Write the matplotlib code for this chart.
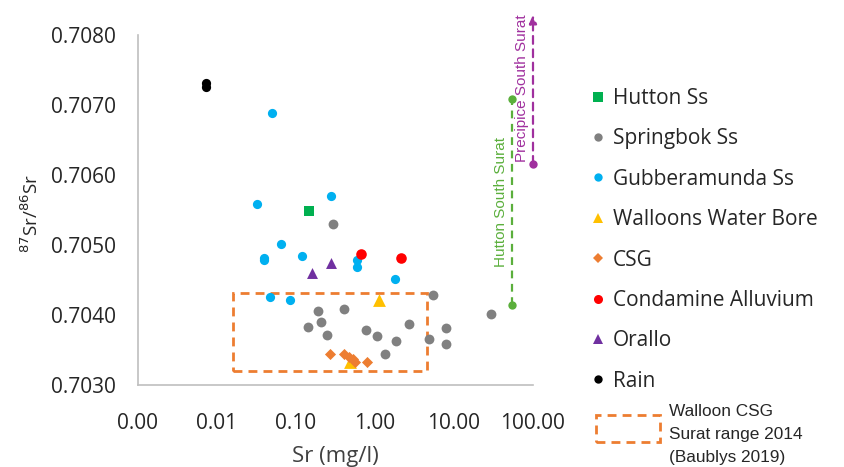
import matplotlib
matplotlib.use("Agg")
import matplotlib.pyplot as plt
from matplotlib.patches import Rectangle
from matplotlib.lines import Line2D
import matplotlib.ticker as mticker

# ---------------- data ----------------
hutton_x = [0.147]
hutton_y = [0.70548]

springbok_x = [0.29, 5.4, 0.19, 0.40, 0.207, 0.141, 0.246, 0.76, 1.05, 2.68, 1.83, 1.34, 4.8, 7.9, 7.9, 29]
springbok_y = [0.70530, 0.70428, 0.70406, 0.70408, 0.70390, 0.70383, 0.70372, 0.70378, 0.70370,
               0.70387, 0.70363, 0.70344, 0.70366, 0.70381, 0.70359, 0.70401]

gubbera_x = [0.050, 0.032, 0.28, 0.064, 0.039, 0.039, 0.12, 0.59, 0.59, 1.79, 0.047, 0.084]
gubbera_y = [0.70689, 0.70558, 0.70570, 0.70501, 0.70482, 0.70478, 0.70485, 0.70479, 0.70469,
             0.70451, 0.70426, 0.70422]

walloons_x = [1.12, 0.48]
walloons_y = [0.70422, 0.70333]

csg_x = [0.27, 0.41, 0.47, 0.52, 0.56, 0.80]
csg_y = [0.70344, 0.70344, 0.70340, 0.70337, 0.70333, 0.70333]

condamine_x = [0.66, 2.13]
condamine_y = [0.70487, 0.70482]

orallo_x = [0.277, 0.161]
orallo_y = [0.70474, 0.70460]

rain_x = [0.0073, 0.0073]
rain_y = [0.70731, 0.70725]

# Walloon CSG Surat range 2014 (Baublys 2019)
range_x = [0.016, 4.5]
range_y = [0.70320, 0.70432]
range_label = "Walloon CSG\nSurat range 2014\n(Baublys 2019)"

# South Surat ranges
hutton_ss_x = 55
hutton_ss_y = [0.70414, 0.70709]
precipice_ss_x = 100
precipice_ss_y = [0.70616, 0.70829]

xticks = [0.001, 0.01, 0.1, 1, 10, 100]
xticklabels = ["0.00", "0.01", "0.10", "1.00", "10.00", "100.00"]
yticks = [0.7030, 0.7040, 0.7050, 0.7060, 0.7070, 0.7080]
yticklabels = ["0.7030", "0.7040", "0.7050", "0.7060", "0.7070", "0.7080"]

# ---------------- figure ----------------
W, H = 844, 467
fig = plt.figure(figsize=(W / 100, H / 100), dpi=100)
ax = fig.add_axes([138 / W, (H - 385) / H, 395 / W, 350 / H])

tickfont = "Open Sans"
armfont = "Liberation Sans"
txtcol = "#262626"

ax.set_xscale("log")
ax.set_xlim(0.001, 100)
ax.set_ylim(0.7030, 0.7080)

series = [
    ("Hutton Ss", hutton_x, hutton_y, "s", "#00B050", 50, 6.5),
    ("Springbok Ss", springbok_x, springbok_y, "o", "#808080", 50, 6),
    ("Gubberamunda Ss", gubbera_x, gubbera_y, "o", "#00B0F0", 44, 6),
    ("Walloons Water Bore", walloons_x, walloons_y, "^", "#FFC000", 85, 7),
    ("CSG", csg_x, csg_y, "D", "#ED7D31", 32, 5),
    ("Condamine Alluvium", condamine_x, condamine_y, "o", "#FF0000", 58, 6.5),
    ("Orallo", orallo_x, orallo_y, "^", "#7030A0", 62, 7),
    ("Rain", rain_x, rain_y, "o", "#000000", 44, 6),
]
handles = []
for name, xs, ys, m, c, s, ms in series:
    ax.scatter(xs, ys, marker=m, s=s, color=c, linewidths=0, zorder=3, clip_on=False)
    handles.append(Line2D([], [], marker=m, color=c, linestyle="none",
                          markersize=ms, markeredgewidth=0, label=name))

# range rectangle
dash = (0, (3.2, 2.2))
rect = Rectangle((range_x[0], range_y[0]), range_x[1] - range_x[0], range_y[1] - range_y[0],
                 fill=False, edgecolor="#ED7D31", linewidth=2, linestyle=dash, zorder=2)
ax.add_patch(rect)

# South Surat ranges
green = "#5BAF3C"
purple = "#A0309E"
ax.plot([hutton_ss_x, hutton_ss_x], hutton_ss_y, color=green, linestyle=(0, (3.5, 2.5)),
        linewidth=1.6, marker="o", markersize=6, markeredgewidth=0, clip_on=False, zorder=3)
ax.plot([precipice_ss_x], [precipice_ss_y[0]], color=purple, marker="o", markersize=6,
        markeredgewidth=0, linestyle="none", clip_on=False, zorder=3)
ax.annotate("", xy=(precipice_ss_x, precipice_ss_y[1]), xytext=(precipice_ss_x, precipice_ss_y[0]),
            arrowprops=dict(arrowstyle="-|>,head_length=0.5,head_width=0.22", color=purple,
                            linestyle=(0, (3.5, 2.5)), linewidth=1.6, shrinkA=0, shrinkB=0),
            annotation_clip=False, zorder=3)
ax.text(39, 0.70562, "Hutton South Surat", rotation=90, ha="center", va="center",
        color=green, fontsize=11, family=armfont)
ax.text(72, 0.70724, "Precipice South Surat", rotation=90, ha="center", va="center",
        color=purple, fontsize=11, family=armfont)

# axes style
for side in ["top", "right"]:
    ax.spines[side].set_visible(False)
for side in ["left", "bottom"]:
    ax.spines[side].set_color("#BFBFBF")
    ax.spines[side].set_linewidth(1.2)
ax.xaxis.set_minor_locator(mticker.NullLocator())
ax.set_xticks(xticks)
ax.set_xticklabels(xticklabels, family=tickfont, fontsize=15, color=txtcol)
ax.set_yticks(yticks)
ax.set_yticklabels(yticklabels, family=tickfont, fontsize=15, color=txtcol)
ax.tick_params(axis="both", length=0)
ax.tick_params(axis="y", pad=16)
ax.tick_params(axis="x", pad=20)

ax.set_xlabel("Sr (mg/l)", family=tickfont, fontsize=16, color="#404040")
ax.xaxis.set_label_coords(0.5, -(462 - 385) / 350, transform=ax.transAxes)
ax.xaxis.label.set_va("baseline")
ax.set_ylabel("$^{87}$Sr/$^{86}$Sr", family=tickfont, fontsize=13.5, color=txtcol)
ax.yaxis.set_label_coords(-(138 - 42) / 395, 0.49)

leg = fig.legend(handles=handles, loc="upper left", bbox_to_anchor=(593 / W, 1 - 88 / H),
                 frameon=False, prop={"family": tickfont, "size": 15}, handlelength=0.5,
                 handletextpad=0.45, labelspacing=0.93, borderpad=0, borderaxespad=0)
for t in leg.get_texts():
    t.set_color(txtcol)

# legend key for the range box (figure pixel coordinates)
key = Rectangle((596 / W, 1 - 442 / H), 64 / W, 27 / H, transform=fig.transFigure,
                fill=False, edgecolor="#ED7D31", linewidth=2, linestyle=dash)
fig.patches.append(key)
fig.text(669 / W, 1 - 404 / H, range_label, family=armfont, fontsize=12.4, color=txtcol,
         ha="left", va="top", linespacing=1.65)

fig.savefig("out.png", dpi=100)
